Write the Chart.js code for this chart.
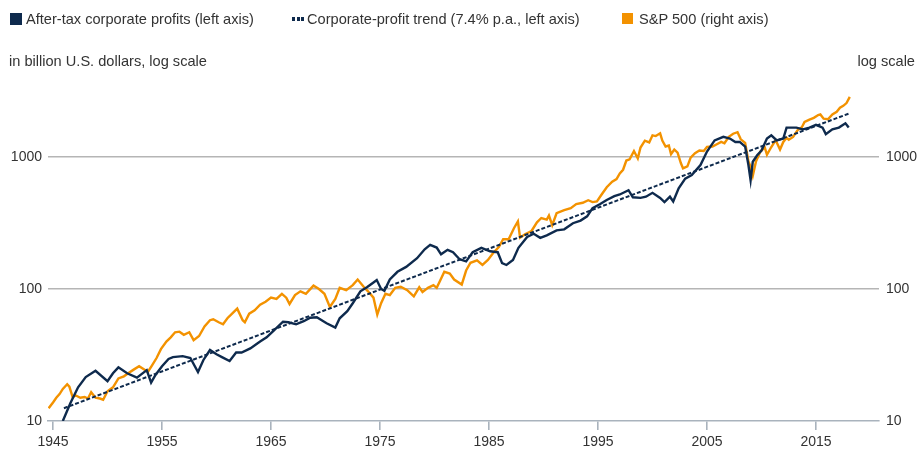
<!DOCTYPE html>
<html>
<head>
<meta charset="utf-8">
<script src="https://cdn.jsdelivr.net/npm/chart.js@4/dist/chart.umd.min.js"></script>
<style>
  html, body { margin: 0; padding: 0; background: #fff; }
  #wrap { position: relative; width: 917px; height: 452px; font-family: "Liberation Sans", Arial, sans-serif; color: #333; }
  #wrap canvas { position: absolute; left: 0; top: 0; }
  .t { position: absolute; font-size: 14.6px; line-height: 16px; white-space: nowrap; color: #333; }
  .box { position: absolute; width: 12px; height: 12px; }
  .dot { position: absolute; width: 3px; height: 4px; background: #0e2a4d; }
</style>
</head>
<body>
<div id="wrap">
  <canvas id="c" width="917" height="452"></canvas>
  <div class="box" style="left:10px;top:13px;background:#0e2a4d;"></div>
  <div class="t" style="left:26px;top:11px;">After-tax corporate profits (left axis)</div>
  <div class="dot" style="left:292px;top:17px;"></div>
  <div class="dot" style="left:296.5px;top:17px;"></div>
  <div class="dot" style="left:301px;top:17px;"></div>
  <div class="t" style="left:307px;top:11px;">Corporate-profit trend (7.4% p.a., left axis)</div>
  <div class="box" style="left:622px;top:13px;width:11px;height:11px;background:#f39200;"></div>
  <div class="t" style="left:639px;top:11px;">S&amp;P 500 (right axis)</div>
  <div class="t" style="left:9px;top:53px;">in billion U.S. dollars, log scale</div>
  <div class="t" style="right:2px;top:53px;">log scale</div>
</div>
<script>
// ---- data ----
const yearTicks = [1945, 1955, 1965, 1975, 1985, 1995, 2005, 2015];
const valueTicks = [10, 100, 1000];

const profitYears = [1945.9,1946.6,1947.3,1948.0,1948.9,1950.0,1950.5,1951.0,1951.8,1952.7,1953.6,1954.0,1954.4,1955.0,1955.6,1956.0,1956.9,1957.6,1958.3,1958.8,1959.4,1960.0,1960.5,1961.2,1961.8,1962.3,1963.1,1964.0,1964.6,1965.2,1966.1,1966.6,1967.3,1968.0,1968.6,1969.2,1970.1,1970.9,1971.3,1972.0,1972.5,1973.2,1973.8,1974.4,1974.7,1975.1,1975.4,1975.9,1976.6,1977.4,1978.4,1979.1,1979.6,1980.2,1980.6,1981.2,1981.7,1982.3,1982.9,1983.5,1984.3,1985.1,1985.8,1986.2,1986.6,1987.2,1987.7,1988.5,1989.1,1989.7,1990.3,1991.2,1991.9,1992.7,1993.4,1994.0,1994.5,1995.2,1995.8,1996.5,1997.0,1997.8,1998.2,1998.9,1999.4,2000.0,2000.7,2001.1,2001.6,2001.9,2002.4,2003.0,2003.6,2004.4,2005.0,2005.7,2006.5,2007.1,2007.6,2008.0,2008.5,2008.8,2009.0,2009.2,2009.6,2010.0,2010.5,2010.9,2011.4,2012.0,2012.3,2013.2,2013.8,2014.4,2015.0,2015.6,2015.9,2016.5,2017.1,2017.7,2018.0];
const profitValues = [10.0,13.7,18.0,21.5,24.0,20.0,23.0,25.5,23.0,21.3,24.3,19.5,22.3,26.0,29.5,30.5,31.0,30.0,23.5,29.0,34.5,32.0,30.5,28.5,33.0,33.0,35.5,40.0,43.0,48.0,56.5,56.0,54.0,57.0,60.5,61.0,55.0,51.0,60.0,68.0,78.0,96.0,103.0,112.0,117.0,100.0,97.0,118.0,135.0,147.0,171.0,200.0,216.0,206.0,183.0,198.0,190.0,168.0,162.0,190.0,205.0,193.0,190.0,157.0,152.0,166.0,205.0,248.0,262.0,244.0,255.0,278.0,283.0,315.0,330.0,355.0,410.0,440.0,472.0,505.0,520.0,560.0,495.0,490.0,500.0,535.0,490.0,455.0,500.0,460.0,580.0,686.0,730.0,870.0,1100.0,1336.0,1420.0,1380.0,1300.0,1300.0,1200.0,870.0,667.0,920.0,1030.0,1120.0,1380.0,1460.0,1336.0,1380.0,1670.0,1670.0,1620.0,1670.0,1750.0,1670.0,1490.0,1620.0,1670.0,1800.0,1670.0];

const trendYears = [1946.0, 2018.0];
const trendValues = [12.5, 2130];

const spYears = [1944.6,1945.0,1945.3,1945.6,1945.9,1946.3,1946.5,1946.8,1947.1,1947.5,1947.9,1948.2,1948.5,1948.9,1949.3,1949.6,1950.0,1950.5,1951.0,1951.5,1951.9,1952.4,1952.9,1953.4,1953.7,1954.1,1954.5,1954.9,1955.4,1955.8,1956.2,1956.6,1957.0,1957.5,1957.9,1958.4,1958.9,1959.4,1959.7,1960.2,1960.6,1961.0,1961.5,1961.9,1962.4,1962.6,1963.0,1963.5,1964.0,1964.5,1965.0,1965.5,1966.0,1966.4,1966.7,1967.2,1967.7,1968.2,1968.9,1969.4,1969.9,1970.4,1970.9,1971.3,1971.9,1972.5,1972.95,1973.5,1973.9,1974.4,1974.75,1975.1,1975.5,1975.9,1976.4,1976.9,1977.5,1978.1,1978.6,1978.9,1979.4,1979.9,1980.2,1980.5,1980.9,1981.4,1981.8,1982.5,1982.9,1983.3,1983.9,1984.4,1984.9,1985.4,1985.9,1986.3,1986.8,1987.3,1987.65,1987.85,1988.3,1988.9,1989.4,1989.8,1990.3,1990.5,1990.8,1991.2,1991.9,1992.5,1993.0,1993.6,1994.1,1994.5,1994.9,1995.3,1995.8,1996.3,1996.7,1997.0,1997.3,1997.6,1997.9,1998.3,1998.65,1998.9,1999.3,1999.7,2000.0,2000.3,2000.7,2000.9,2001.2,2001.5,2001.7,2002.0,2002.3,2002.6,2002.8,2003.2,2003.5,2003.9,2004.3,2004.7,2005.0,2005.5,2005.9,2006.3,2006.6,2007.0,2007.4,2007.8,2008.1,2008.5,2008.8,2009.0,2009.2,2009.5,2009.9,2010.3,2010.5,2010.9,2011.3,2011.7,2012.0,2012.3,2012.5,2012.9,2013.3,2013.7,2013.95,2014.4,2014.8,2015.2,2015.4,2015.7,2016.1,2016.5,2016.9,2017.2,2017.5,2017.8,2018.1];
const spValues = [12.5,13.8,15.0,16.0,17.5,19.0,18.2,15.2,15.6,15.0,15.2,14.8,16.5,15.0,14.8,14.5,16.8,18.0,21.0,21.8,23.0,24.5,26.0,24.5,23.5,26.5,30.0,35.0,40.0,43.0,47.0,47.5,45.0,47.0,41.0,44.0,52.0,58.0,59.0,56.0,54.0,60.0,66.0,71.0,58.0,56.0,65.0,69.0,76.0,80.0,86.0,84.0,92.0,86.0,77.0,90.0,96.0,92.0,106.0,100.0,92.0,73.0,84.0,102.0,98.0,107.0,118.0,104.0,96.0,86.0,64.0,78.0,92.0,90.0,102.0,104.0,98.0,88.0,103.0,95.0,102.0,107.0,102.0,115.0,135.0,131.0,118.0,108.0,138.0,158.0,165.0,152.0,166.0,188.0,208.0,238.0,238.0,290.0,325.0,245.0,260.0,275.0,320.0,345.0,335.0,360.0,305.0,375.0,395.0,410.0,440.0,450.0,470.0,455.0,460.0,515.0,590.0,650.0,680.0,750.0,800.0,940.0,960.0,1110.0,975.0,1180.0,1330.0,1290.0,1460.0,1440.0,1510.0,1330.0,1200.0,1220.0,1050.0,1140.0,1080.0,900.0,820.0,850.0,990.0,1070.0,1120.0,1110.0,1190.0,1200.0,1250.0,1300.0,1270.0,1420.0,1500.0,1540.0,1360.0,1280.0,930.0,840.0,720.0,930.0,1100.0,1180.0,1040.0,1190.0,1340.0,1140.0,1300.0,1400.0,1350.0,1420.0,1590.0,1680.0,1840.0,1920.0,1980.0,2080.0,2100.0,1950.0,1930.0,2100.0,2200.0,2360.0,2440.0,2560.0,2850.0];

// ---- chart ----
const NAVY = '#0e2a4d';
const ORANGE = '#f39200';
const AXIS = '#a9b3bd';
const GRID = '#b5b5b5';
const TXT = '#333333';
const toXY = (xs, ys) => xs.map((x, i) => ({ x: x, y: ys[i] }));
const setTicks = (vals) => (scale) => { scale.ticks = vals.map(v => ({ value: v })); };

new Chart(document.getElementById('c'), {
  type: 'line',
  data: {
    datasets: [
      { label: 'Corporate-profit trend (7.4% p.a., left axis)', data: toXY(trendYears, trendValues), yAxisID: 'y',
        borderColor: NAVY, borderWidth: 2, borderDash: [4, 2], pointRadius: 0, tension: 0, order: 0 },
      { label: 'After-tax corporate profits (left axis)', data: toXY(profitYears, profitValues), yAxisID: 'y',
        borderColor: NAVY, borderWidth: 2.4, pointRadius: 0, tension: 0, order: 1 },
      { label: 'S&P 500 (right axis)', data: toXY(spYears, spValues), yAxisID: 'y2',
        borderColor: ORANGE, borderWidth: 2.4, pointRadius: 0, tension: 0, order: 2 }
    ]
  },
  options: {
    responsive: false,
    animation: false,
    events: [],
    layout: { autoPadding: false, padding: { top: 77.5, left: 0, right: 0, bottom: 0 } },
    plugins: { legend: { display: false }, tooltip: { enabled: false } },
    scales: {
      x: {
        type: 'linear', min: 1944.54, max: 2020.78,
        afterBuildTicks: setTicks(yearTicks),
        afterFit: (s) => { s.height = 31; },
        border: { display: true, color: AXIS, width: 1.6 },
        grid: { drawOnChartArea: false, drawTicks: true, tickLength: 9, color: AXIS, lineWidth: 1.6 },
        ticks: { padding: 4, color: TXT, font: { family: 'Liberation Sans', size: 14 }, maxRotation: 0,
                 callback: (v) => String(v) }
      },
      y: {
        type: 'logarithmic', position: 'left', min: 10, max: 4000,
        afterBuildTicks: setTicks(valueTicks),
        afterFit: (s) => { s.width = 48; },
        border: { display: false },
        grid: { drawTicks: false, lineWidth: 1.5,
                color: (ctx) => (ctx.tick && ctx.tick.value === 10) ? 'rgba(0,0,0,0)' : GRID },
        ticks: { padding: 6, color: TXT, font: { family: 'Liberation Sans', size: 14 }, callback: (v) => String(v) }
      },
      y2: {
        type: 'logarithmic', position: 'right', min: 10, max: 4000,
        afterBuildTicks: setTicks(valueTicks),
        afterFit: (s) => { s.width = 38; },
        border: { display: false },
        grid: { display: false, drawTicks: false },
        ticks: { padding: 7, color: TXT, font: { family: 'Liberation Sans', size: 14 }, callback: (v) => String(v) }
      }
    }
  }
});
</script>
</body>
</html>
